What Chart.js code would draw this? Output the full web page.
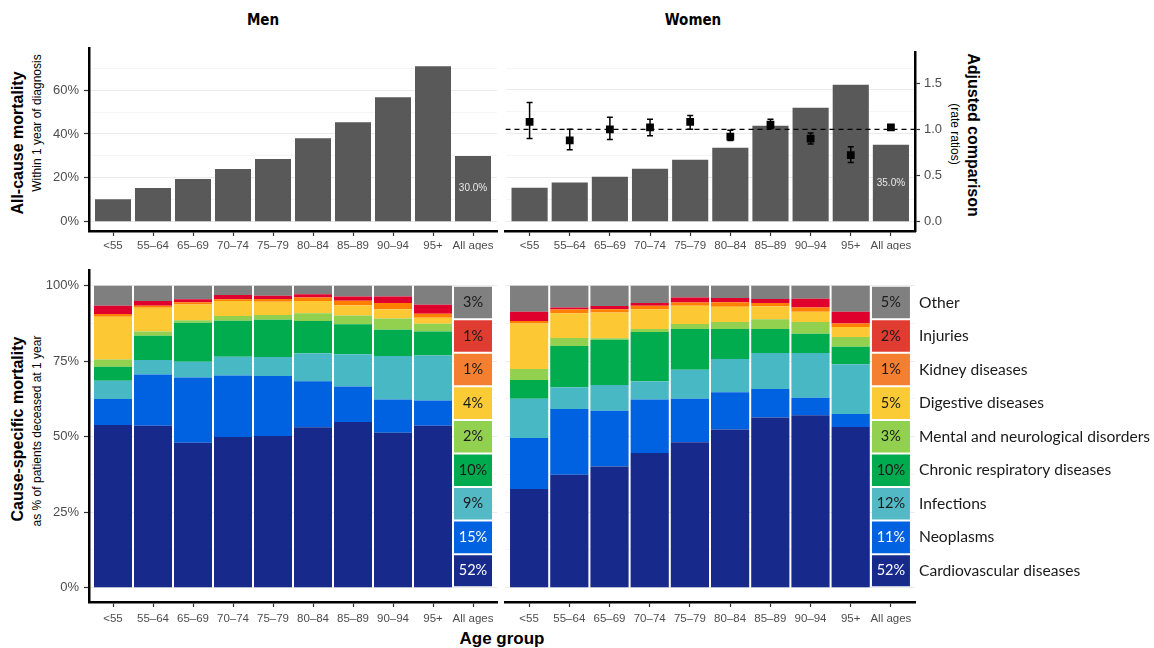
<!DOCTYPE html>
<html>
<head>
<meta charset="utf-8">
<script src="https://cdn.jsdelivr.net/npm/chart.js@4.4.1/dist/chart.umd.min.js"></script>
<style>
  body { margin: 0; background: #fff; width: 1154px; height: 648px; position: relative; overflow: hidden;
         font-family: "Liberation Sans", Arial, sans-serif; color: #000; }
  canvas { position: absolute; }
  .t { position: absolute; white-space: nowrap; transform: translate(-50%, -50%); line-height: 1; }
  .up { transform: translate(-50%, -50%) rotate(-90deg); }
  .down { transform: translate(-50%, -50%) rotate(90deg); }
  .panel { font-family: "DejaVu Sans", sans-serif; font-weight: bold; font-size: 15px; font-stretch: condensed; }
  .b { font-weight: bold; font-size: 16px; }
  .s { font-size: 12px; }
</style>
</head>
<body>
<div class="t panel" style="left:263px;top:20px">Men</div>
<div class="t panel" style="left:693px;top:20px">Women</div>

<div class="t up b" style="left:18px;top:143px">All-cause mortality</div>
<div class="t up s" style="left:37px;top:123px">Within 1 year of diagnosis</div>
<div class="t up b" style="left:18px;top:429px">Cause-specific mortality</div>
<div class="t up s" style="left:37px;top:431px">as % of patients deceased at 1 year</div>
<div class="t down b" style="left:973px;top:135px">Adjusted comparison</div>
<div class="t down s" style="left:955px;top:134px">(rate ratios)</div>
<div class="t b" style="left:502px;top:638px;font-size:17px">Age group</div>

<canvas id="topMen" width="500" height="210" style="left:0;top:40px"></canvas>
<canvas id="topWomen" width="450" height="210" style="left:500px;top:40px"></canvas>
<canvas id="causeMen" width="500" height="366" style="left:0;top:262px"></canvas>
<canvas id="causeWomen" width="654" height="366" style="left:500px;top:262px"></canvas>

<script>
const ageGroups = ['<55', '55–64', '65–69', '70–74', '75–79', '80–84', '85–89', '90–94', '95+', 'All ages'];

// all-cause mortality within 1 year (%)
const menAllCause = [10.2, 15.4, 19.5, 24.0, 28.6, 38.1, 45.4, 56.7, 70.9, 30.0];
const womenAllCause = [15.5, 17.8, 20.5, 24.1, 28.2, 33.7, 43.7, 51.9, 62.4, 35.0];

// adjusted rate ratios, women vs men
const womenRR = [1.08, 0.88, 1.00, 1.02, 1.08, 0.92, 1.05, 0.90, 0.72, 1.02];
const womenRRLow = [0.90, 0.78, 0.89, 0.93, 1.00, 0.88, 1.01, 0.84, 0.64, 1.00];
const womenRRHigh = [1.29, 1.00, 1.13, 1.11, 1.15, 0.99, 1.11, 0.96, 0.81, 1.04];

const causes = ['Cardiovascular diseases', 'Neoplasms', 'Infections', 'Chronic respiratory diseases',
  'Mental and neurological disorders', 'Digestive diseases', 'Kidney diseases', 'Injuries', 'Other'];

// cause-specific share of deaths (%), by age group <55 .. 95+
const menCardio  = [53.9, 53.6, 48.0, 49.9, 50.2, 53.1, 54.9, 51.3, 53.6];
const menNeo     = [8.6, 17.0, 21.6, 20.4, 19.9, 15.3, 11.7, 11.0, 8.4];
const menInf     = [6.0, 4.8, 5.2, 6.2, 6.3, 9.2, 10.7, 14.4, 14.9];
const menResp    = [4.7, 8.0, 12.9, 11.9, 12.3, 10.7, 9.9, 8.7, 7.9];
const menMental  = [2.4, 1.4, 0.9, 1.6, 1.6, 2.6, 2.9, 3.7, 2.6];
const menDigest  = [14.1, 7.9, 5.2, 4.9, 4.4, 4.0, 3.4, 3.1, 2.0];
const menKidney  = [0.9, 0.7, 0.7, 0.6, 0.9, 1.2, 1.5, 2.1, 1.3];
const menInjury  = [2.8, 1.5, 1.0, 1.4, 1.1, 1.1, 1.4, 2.1, 3.0];
const menOther   = [6.6, 5.1, 4.5, 3.1, 3.3, 2.8, 3.6, 3.6, 6.3];

const womenCardio = [32.7, 37.4, 40.1, 44.6, 48.2, 52.4, 56.4, 57.1, 53.2];
const womenNeo    = [16.9, 21.8, 18.5, 17.7, 14.4, 12.3, 9.4, 5.8, 4.3];
const womenInf    = [13.0, 7.2, 8.5, 6.1, 9.6, 11.0, 11.9, 14.8, 16.5];
const womenResp   = [6.2, 13.6, 15.0, 16.3, 13.5, 10.0, 8.0, 6.4, 5.8];
const womenMental = [3.6, 2.7, 0.5, 1.0, 1.6, 2.3, 3.2, 3.9, 3.2];
const womenDigest = [15.1, 8.2, 8.5, 6.5, 6.1, 5.0, 4.3, 3.4, 3.3];
const womenKidney = [0.8, 1.2, 1.1, 1.2, 1.0, 1.5, 1.1, 1.4, 1.2];
const womenInjury = [3.1, 0.7, 1.1, 0.9, 1.7, 1.4, 1.3, 2.9, 3.9];
const womenOther  = [8.6, 7.2, 6.7, 5.7, 3.9, 4.1, 4.4, 4.3, 8.6];

// "All ages" column: shares shown as labelled tiles
const menAllAges = [52, 15, 9, 10, 2, 4, 1, 1, 3];
const womenAllAges = [52, 11, 12, 10, 3, 5, 1, 2, 5];

const barColors = ['#172a8c', '#0062e0', '#48b8c4', '#00ac4e', '#92d050', '#fcc934', '#ff7f00', '#e0002d', '#7f7f7f'];
const tileColors = ['#172a8c', '#0062e0', '#53b9c5', '#00ab50', '#92d050', '#fbcb35', '#f47f30', '#e03c31', '#808080'];

Chart.defaults.font.family = '"Liberation Sans", Arial, sans-serif';
Chart.defaults.animation = false;

const TICK = '#333';
const LABEL = '#4d4d4d';

// keep label overhang from shrinking the plot area
function noPad(s) { s.paddingTop = 0; s.paddingBottom = 0; s.paddingLeft = 0; s.paddingRight = 0; }

function xAxis(height, pad) {
  return {
    type: 'linear', min: 0.4, max: 10.6, stacked: true, offset: false,
    afterBuildTicks: s => { s.ticks = ageGroups.map((_, i) => ({ value: i + 1 })); },
    afterFit: s => { s.height = height; noPad(s); },
    grid: { offset: false, drawOnChartArea: false, tickLength: 5, tickColor: TICK, tickWidth: 1.2 },
    border: { color: '#000', width: 2.5 },
    ticks: { callback: v => ageGroups[v - 1], color: LABEL, font: { size: 11.5 }, maxRotation: 0, autoSkip: false, padding: pad }
  };
}

function pctAxis(min, max, tickVals, major, shown) {
  return {
    min: min, max: max, stacked: true,
    afterBuildTicks: s => { s.ticks = tickVals.map(v => ({ value: v })); },
    afterFit: s => { s.width = shown ? 89 : 0; noPad(s); },
    grid: {
      color: c => (c.tick && c.tick.value % major === 0) ? '#ebebeb' : '#f5f5f5',
      lineWidth: 1,
      drawTicks: shown, tickLength: 5, tickWidth: 1.2,
      tickColor: c => (c.tick && c.tick.value % major === 0) ? TICK : 'rgba(0,0,0,0)'
    },
    border: { display: shown, color: '#000', width: 2.5 },
    ticks: { display: shown, callback: v => v % major === 0 ? v + '%' : '', color: LABEL, font: { size: 13 }, padding: 5 }
  };
}

const baseOptions = {
  responsive: false,
  plugins: { legend: { display: false }, tooltip: { enabled: false } }
};

// white value label inside the "All ages" bar
const allAgesLabel = {
  id: 'allAgesLabel',
  afterDatasetsDraw(chart, args, opts) {
    const el = chart.getDatasetMeta(opts.index).data[9];
    const v = chart.data.datasets[opts.index].data[9].y;
    const ctx = chart.ctx;
    ctx.save();
    ctx.font = '10px "Liberation Sans", Arial, sans-serif';
    ctx.fillStyle = '#e8e8e8';
    ctx.textAlign = 'center';
    ctx.textBaseline = 'middle';
    ctx.fillText(v.toFixed(1) + '%', el.x, (el.y + el.base) / 2);
    ctx.restore();
  }
};

const errorBars = {
  id: 'errorBars',
  afterDatasetsDraw(chart) {
    const { ctx, scales: { x, y1 } } = chart;
    ctx.save();
    ctx.strokeStyle = '#000';
    ctx.lineWidth = 1.5;
    womenRR.forEach((_, i) => {
      const px = x.getPixelForValue(i + 1);
      const lo = y1.getPixelForValue(womenRRLow[i]);
      const hi = y1.getPixelForValue(womenRRHigh[i]);
      ctx.beginPath();
      ctx.moveTo(px, lo); ctx.lineTo(px, hi);
      ctx.moveTo(px - 3, lo); ctx.lineTo(px + 3, lo);
      ctx.moveTo(px - 3, hi); ctx.lineTo(px + 3, hi);
      ctx.stroke();
    });
    ctx.restore();
  }
};

function toXY(arr) { return arr.map((v, i) => ({ x: i + 1, y: v })); }

new Chart(document.getElementById('topMen'), {
  type: 'bar',
  data: { datasets: [{ data: toXY(menAllCause), backgroundColor: '#595959', barPercentage: 0.9, categoryPercentage: 1 }] },
  options: {
    ...baseOptions,
    layout: { padding: { left: 0, top: 8, right: 3, bottom: 0 } },
    scales: { x: xAxis(19, 3), y: pctAxis(-4.24, 79.2, [0, 10, 20, 30, 40, 50, 60, 70], 20, true) },
    plugins: { ...baseOptions.plugins, allAgesLabel: { index: 0 } }
  },
  plugins: [allAgesLabel]
});

new Chart(document.getElementById('topWomen'), {
  type: 'bar',
  data: {
    datasets: [
      { type: 'line', data: toXY(womenRR), yAxisID: 'y1', showLine: false, pointStyle: 'rect',
        pointRadius: 5.5, backgroundColor: '#000', borderColor: '#000', borderWidth: 0, order: 1 },
      { type: 'line', data: [{ x: 0.4, y: 1 }, { x: 10.6, y: 1 }], yAxisID: 'y1', borderColor: '#000',
        borderWidth: 1.3, borderDash: [5, 4], pointRadius: 0, order: 2 },
      { data: toXY(womenAllCause), yAxisID: 'y', backgroundColor: '#595959', barPercentage: 0.9, categoryPercentage: 1, order: 3 }
    ]
  },
  options: {
    ...baseOptions,
    layout: { padding: { left: 5, top: 12, right: 0, bottom: 0 } },
    scales: {
      x: xAxis(19, 3),
      y: pctAxis(-4.24, 77.3, [0, 10, 20, 30, 40, 50, 60, 70], 20, false),
      y1: {
        position: 'right', min: -0.1006, max: 1.8366,
        afterBuildTicks: s => { s.ticks = [0, 0.5, 1, 1.5].map(v => ({ value: v })); },
        afterFit: s => { s.width = 35; noPad(s); },
        grid: { drawOnChartArea: false, tickLength: 5, tickColor: TICK, tickWidth: 1.2 },
        border: { color: '#000', width: 2.5 },
        ticks: { callback: v => v.toFixed(1), color: LABEL, font: { size: 13 }, padding: 4 }
      }
    },
    plugins: { ...baseOptions.plugins, allAgesLabel: { index: 2 } }
  },
  plugins: [allAgesLabel, errorBars]
});

function tilePlugin(labels, withLegend) {
  return {
    id: 'tiles',
    afterDatasetsDraw(chart) {
      const ctx = chart.ctx;
      ctx.save();
      ctx.textBaseline = 'middle';
      chart.data.datasets.forEach((ds, k) => {
        const el = chart.getDatasetMeta(k).data[9];
        const cy = (el.y + el.base) / 2;
        ctx.font = '14.5px Lato, sans-serif';
        ctx.textAlign = 'center';
        ctx.fillStyle = k < 2 ? '#fff' : '#1a1a1a';
        ctx.fillText(labels[k] + '%', el.x, cy);
        if (withLegend) {
          ctx.font = '15.6px Lato, sans-serif';
          ctx.textAlign = 'left';
          ctx.fillStyle = '#1a1a1a';
          ctx.fillText(causes[k], el.x + el.width / 2 + 9, cy);
        }
      });
      ctx.restore();
    }
  };
}

const TILE = 100 / causes.length;

function causeDatasets(series) {
  return series.map((arr, k) => ({
    data: ageGroups.map((_, i) => ({ x: i + 1, y: i < arr.length ? arr[i] : TILE })),
    backgroundColor: c => c.dataIndex === 9 ? tileColors[k] : barColors[k],
    borderColor: '#fff',
    borderSkipped: false,
    borderWidth: c => c.dataIndex === 9 ? { top: 1, bottom: 1, left: 0, right: 0 } : 0,
    barPercentage: 0.95, categoryPercentage: 1
  }));
}

const causeTicks = [0, 12.5, 25, 37.5, 50, 62.5, 75, 87.5, 100];

new Chart(document.getElementById('causeMen'), {
  type: 'bar',
  data: { datasets: causeDatasets([menCardio, menNeo, menInf, menResp, menMental, menDigest, menKidney, menInjury, menOther]) },
  options: {
    ...baseOptions,
    layout: { padding: { left: 0, top: 8, right: 3, bottom: 0 } },
    scales: { x: xAxis(26, 5), y: pctAxis(-4.73, 105.2, causeTicks, 25, true) }
  },
  plugins: [tilePlugin(menAllAges, false)]
});

new Chart(document.getElementById('causeWomen'), {
  type: 'bar',
  data: { datasets: causeDatasets([womenCardio, womenNeo, womenInf, womenResp, womenMental, womenDigest, womenKidney, womenInjury, womenOther]) },
  options: {
    ...baseOptions,
    layout: { padding: { left: 5, top: 8, right: 239, bottom: 0 } },
    scales: { x: xAxis(26, 5), y: pctAxis(-4.73, 105.2, causeTicks, 25, false) }
  },
  plugins: [tilePlugin(womenAllAges, true)]
});
</script>
</body>
</html>
